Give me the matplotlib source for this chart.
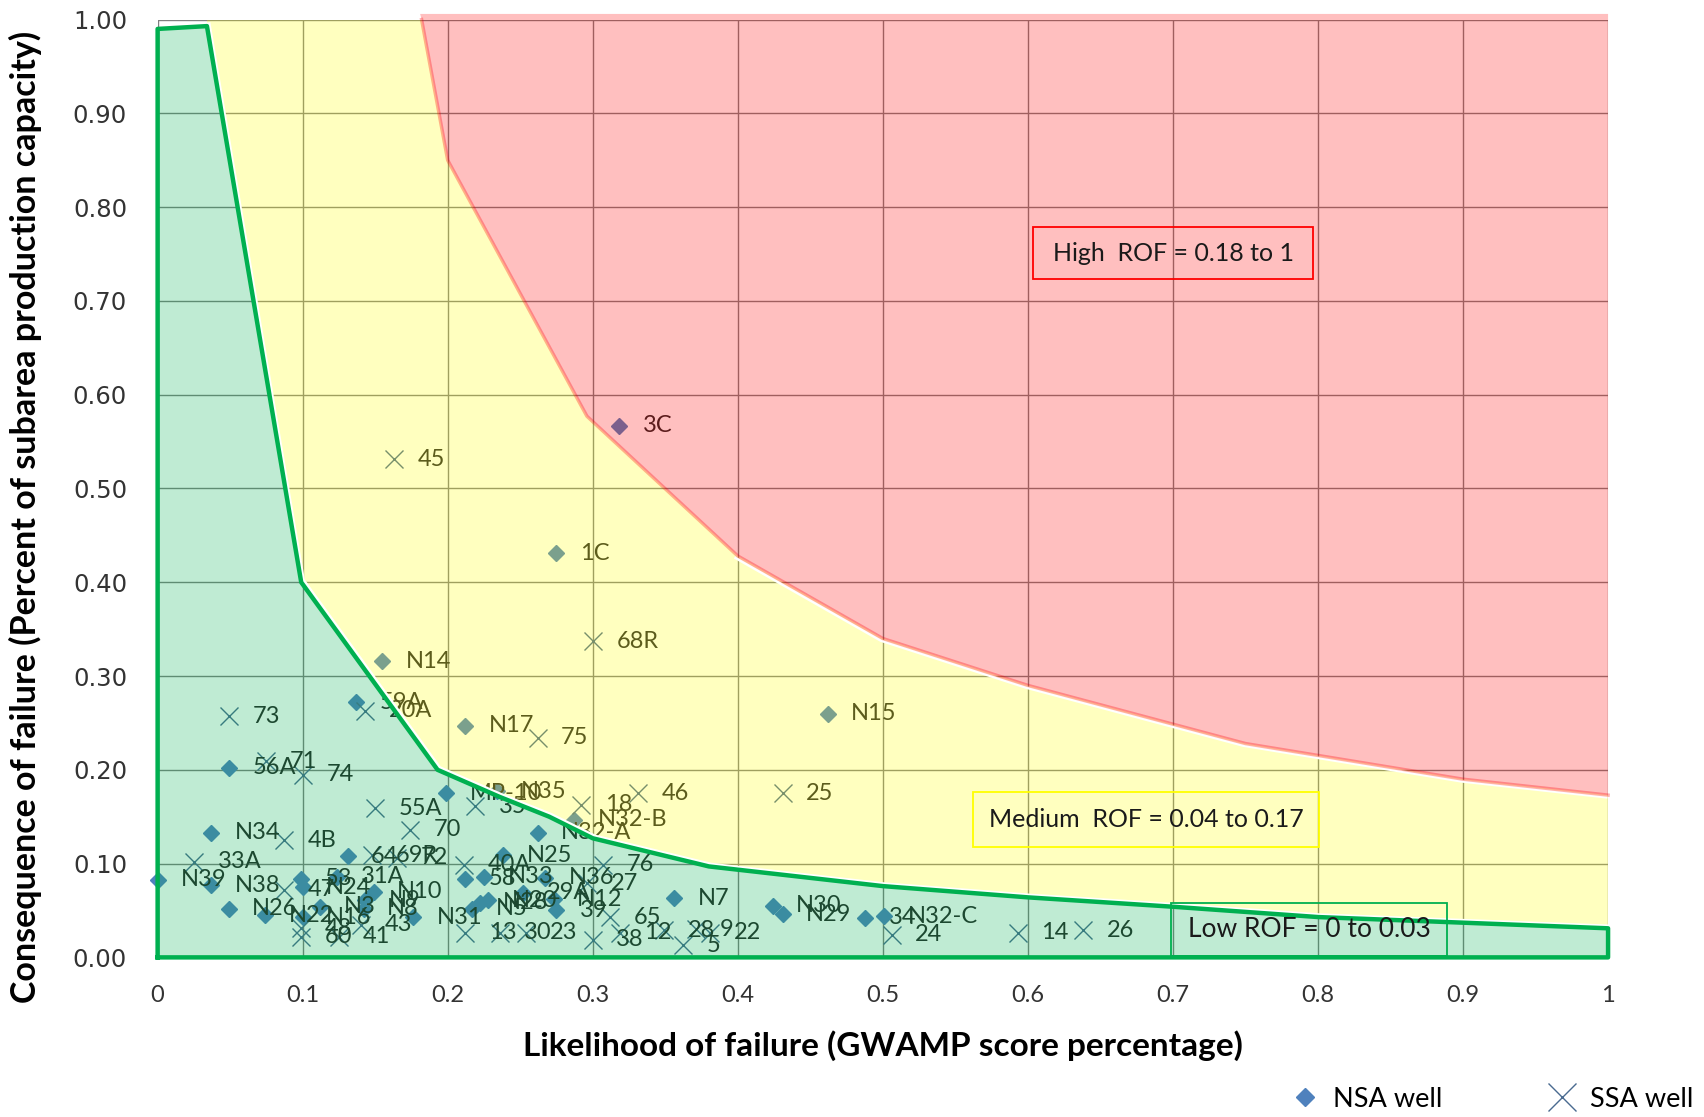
import numpy as np
import matplotlib.pyplot as plt
from matplotlib.patches import Polygon, Rectangle
from matplotlib.lines import Line2D
from matplotlib.transforms import offset_copy

plt.rcParams['font.family'] = ['Lato', 'DejaVu Sans']

# NSA wells (diamonds)
nsa_labels = ['3C', '1C', 'N14', 'N15', 'N17', '59A', '56A', 'MP-10', 'N35', 'N32-B',
              'N32-A', 'N34', '64', 'N39', 'N38', 'N26', 'N22', '53', 'N24', '31A',
              'N10', 'N9', 'N8', 'N3', 'N16', 'N31', 'N25', '58', 'N33', 'N36',
              '39', 'N12', 'N5', 'N28', 'N20', '29A', 'N7', 'N30', 'N29', '34', 'N32-C']
nsa_x = [0.318, 0.275, 0.155, 0.462, 0.212, 0.137, 0.049, 0.199, 0.234, 0.287,
         0.262, 0.037, 0.131, 0.000, 0.037, 0.049, 0.074, 0.099, 0.100, 0.124,
         0.149, 0.143, 0.142, 0.112, 0.100, 0.176, 0.238, 0.212, 0.225, 0.267,
         0.275, 0.273, 0.217, 0.222, 0.228, 0.252, 0.356, 0.424, 0.431, 0.488, 0.501]
nsa_y = [0.567, 0.431, 0.316, 0.260, 0.247, 0.272, 0.202, 0.175, 0.177, 0.147,
         0.133, 0.133, 0.108, 0.083, 0.077, 0.052, 0.045, 0.084, 0.075, 0.086,
         0.070, 0.061, 0.052, 0.054, 0.043, 0.043, 0.109, 0.084, 0.086, 0.085,
         0.050, 0.062, 0.052, 0.058, 0.061, 0.069, 0.063, 0.055, 0.046, 0.042, 0.044]

# SSA wells (crosses)
ssa_labels = ['45', '68R', '75', '25', '46', '18', '35', '73', '20A', '71',
              '74', '55A', '70', '4B', '33A', '69R', '72', '40A', '76', '27',
              '47', '13', '30', '23', '38', '65', '12', '28', '5', '9',
              '22', '24', '14', '26', '60', '48', '41', '43']
ssa_x = [0.163, 0.300, 0.262, 0.431, 0.331, 0.292, 0.219, 0.049, 0.143, 0.075,
         0.100, 0.150, 0.174, 0.087, 0.025, 0.148, 0.165, 0.211, 0.307, 0.296,
         0.087, 0.212, 0.236, 0.254, 0.300, 0.312, 0.319, 0.349, 0.362, 0.371,
         0.381, 0.506, 0.593, 0.638, 0.099, 0.099, 0.125, 0.140]
ssa_y = [0.531, 0.337, 0.234, 0.175, 0.175, 0.163, 0.161, 0.257, 0.263, 0.209,
         0.195, 0.159, 0.136, 0.125, 0.102, 0.109, 0.106, 0.099, 0.099, 0.079,
         0.072, 0.026, 0.026, 0.026, 0.019, 0.043, 0.026, 0.029, 0.013, 0.030,
         0.026, 0.024, 0.026, 0.029, 0.022, 0.031, 0.022, 0.035]

# zone boundaries
low_x = [0.0, 0.0, 0.034, 0.099, 0.193, 0.236, 0.270, 0.300, 0.380, 0.500, 0.600, 0.700, 0.800, 0.900, 1.0, 1.0]
low_y = [0.0, 0.990, 0.993, 0.400, 0.200, 0.171, 0.150, 0.127, 0.097, 0.076, 0.064, 0.054, 0.043, 0.037, 0.031, 0.0]
high_x = [0.182, 0.200, 0.296, 0.400, 0.500, 0.600, 0.750, 0.900, 1.0]
high_y = [1.0, 0.850, 0.577, 0.428, 0.340, 0.290, 0.228, 0.190, 0.173]

fig = plt.figure(figsize=(17.04, 11.17), dpi=100)
ax = fig.add_axes([0.0925, 0.1429, 0.8512, 0.8396])
ax.set_xlim(0, 1)
ax.set_ylim(0, 1)

ax.set_xticks(np.arange(0, 1.01, 0.1))
ax.set_xticklabels(['0', '0.1', '0.2', '0.3', '0.4', '0.5', '0.6', '0.7', '0.8', '0.9', '1'])
ax.set_yticks(np.arange(0, 1.01, 0.1))
ax.set_yticklabels(['%.2f' % v for v in np.arange(0, 1.01, 0.1)])
ax.tick_params(axis='x', length=0, pad=20, colors='#333333')
ax.tick_params(axis='y', length=0, pad=22, colors='#333333')
for t in ax.get_xticklabels():
    t.set_fontsize(17)
for t in ax.get_yticklabels():
    t.set_fontsize(17.5)
    t.set_family('DejaVu Sans')
ax.grid(True, color='#808080', lw=1, zorder=0)
ax.set_axisbelow(True)
for s in ax.spines.values():
    s.set_visible(False)

# wells go underneath the translucent zones
nsa, = ax.plot(nsa_x, nsa_y, 'D', ms=8.5, color='#4f81bd', ls='none', zorder=2, clip_on=False)
ssa, = ax.plot(ssa_x, ssa_y, 'x', ms=13, mew=1, color='#4a6a90', ls='none', zorder=2, clip_on=False)
for x, y, s in zip(nsa_x + ssa_x, nsa_y + ssa_y, nsa_labels + ssa_labels):
    ax.annotate(s, (x, y), xytext=(17, 0), textcoords='offset points', va='center',
                fontsize=17, color='#262626', zorder=3, annotation_clip=False)

# risk zones
low_pts = np.column_stack([low_x, low_y])
mid_pts = np.vstack([low_pts[2:-1],
                     [[1.0, high_y[-1]]],
                     np.column_stack([high_x, high_y])[::-1],
                     [[low_x[2], 1.0]]])
high_pts = np.vstack([np.column_stack([high_x, high_y]), [[1.0, 1.006], [high_x[0] - 0.001, 1.006]]])

ax.add_patch(Polygon(low_pts, closed=True, fc='#00b050', ec='none', alpha=0.25, zorder=4))
ax.add_patch(Polygon(mid_pts, closed=True, fc='#ffff00', ec='none', alpha=0.25, zorder=4))
ax.add_patch(Polygon(high_pts, closed=True, fc='#ff0000', ec='none', alpha=0.25, zorder=4, clip_on=False))

# thin white seams between the zones
ax.plot(low_x[2:-1], low_y[2:-1], color='white', lw=2.5, zorder=5,
        transform=offset_copy(ax.transData, fig=fig, x=2, y=2, units='dots'))
ax.plot(high_x[3:], high_y[3:], color='white', lw=2, zorder=5,
        transform=offset_copy(ax.transData, fig=fig, x=-2, y=-2, units='dots'))
ax.plot(high_x, high_y, color='#ff0000', alpha=0.3, lw=2.5, zorder=5, clip_on=False)
ax.plot(low_x + [low_x[0]], low_y + [low_y[0]], color='#00b050', lw=3.2, zorder=6, clip_on=False)

# zone captions
boxes = [((0.6036, 0.723), 0.1931, 0.0555, '#ff0000', 'High  ROF = 0.18 to 1', 18),
         ((0.562, 0.118), 0.239, 0.0587, '#ffff00', 'Medium  ROF = 0.04 to 0.17', 18),
         ((0.699, 0.001), 0.190, 0.0567, '#00b050', 'Low ROF = 0 to 0.03', 19)]
for (bx, by), bw, bh, ec, txt, fs in boxes:
    ax.add_patch(Rectangle((bx, by), bw, bh, fill=False, ec=ec, lw=1.3, zorder=7))
    ax.text(bx + bw / 2, by + bh / 2, txt, ha='center', va='center', fontsize=fs,
            color='#1a1a1a', zorder=7)

ax.set_xlabel('Likelihood of failure (GWAMP score percentage)', fontsize=24,
              fontweight='bold', labelpad=17)
ax.set_ylabel('Consequence of failure (Percent of subarea production capacity)', fontsize=24.5,
              fontweight='bold')
ax.yaxis.set_label_coords(-0.08, 0.47)

legend_nsa = Line2D([], [], marker='D', ms=9, color='#4f81bd', ls='none')
legend_ssa = Line2D([], [], marker='x', ms=20, mew=1, color='#4a6a90', ls='none')
fig.legend([legend_nsa, legend_ssa], ['NSA well', 'SSA well'], loc='center right',
           bbox_to_anchor=(0.994, 0.016), ncol=2, frameon=False, fontsize=19.5,
           handletextpad=0.05, columnspacing=3.4, borderpad=0, borderaxespad=0)

fig.savefig('out.png', dpi=100)
